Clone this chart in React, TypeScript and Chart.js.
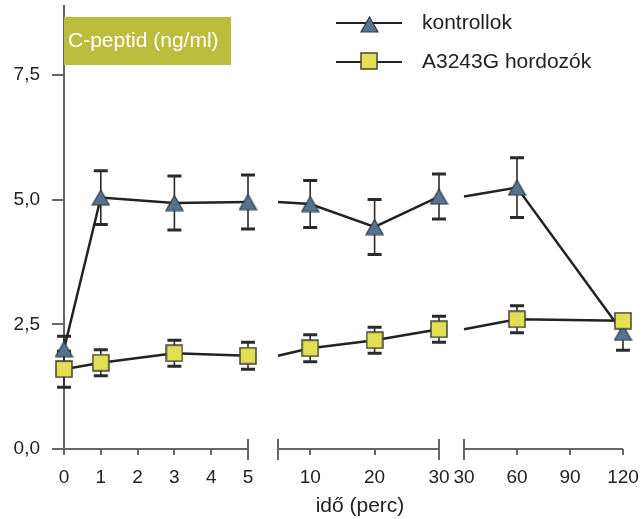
import React, { useEffect, useRef } from 'react';
import { Chart, registerables } from 'chart.js';

Chart.register(...registerables);

// ---- data ----
const times = [0, 1, 3, 5, 10, 20, 30, 60, 120];
const controlMeans = [2.0, 5.04, 4.93, 4.95, 4.91, 4.45, 5.06, 5.24, 2.33];
const controlErrs = [0.26, 0.54, 0.54, 0.54, 0.47, 0.55, 0.45, 0.6, 0.35];
const carrierMeans = [1.6, 1.73, 1.92, 1.87, 2.02, 2.18, 2.4, 2.6, 2.57];
const carrierErrs = [0.36, 0.26, 0.26, 0.27, 0.27, 0.26, 0.26, 0.27, 0.1];
const seriesNames = ['kontrollok', 'A3243G hordozók'];
const yTicks = [0, 2.5, 5, 7.5];
const yTitle = 'C-peptid (ng/ml)';
const xTitle = 'idő (perc)';
// broken time axis: three segments
const segTimeStart = [0, 5, 30];
const segTimeEnd = [5, 30, 120];
const segTickTimes = [[0, 1, 2, 3, 4, 5], [10, 20, 30], [30, 60, 90, 120]];

// ---- layout (axis units of the x scale) ----
const segPosStart = [0, 214, 400];
const segPosEnd = [184, 375, 559];
const X_MAX = 559;
const Y_MAX = 8.88;
const FONT = '"Liberation Sans", Arial, sans-serif';

function segOf(t: number): number {
  if (t <= segTimeEnd[0]) return 0;
  if (t <= segTimeEnd[1]) return 1;
  return 2;
}
function pos(seg: number, t: number): number {
  return (
    segPosStart[seg] +
    ((t - segTimeStart[seg]) / (segTimeEnd[seg] - segTimeStart[seg])) *
      (segPosEnd[seg] - segPosStart[seg])
  );
}

type Pt = { x: number; y: number | null; err: number; marker: boolean };

function buildPoints(means: number[], errs: number[]): Pt[] {
  const pts: Pt[] = [];
  let prevSeg = -1;
  let prevIdx = -1;
  times.forEach((t, i) => {
    const s = segOf(t);
    if (prevSeg >= 0 && s !== prevSeg) {
      pts.push({ x: (segPosEnd[prevSeg] + segPosStart[s]) / 2, y: null, err: 0, marker: false });
      pts.push({ x: segPosStart[s], y: means[prevIdx], err: 0, marker: false });
    }
    pts.push({ x: pos(s, t), y: means[i], err: errs[i], marker: true });
    prevSeg = s;
    prevIdx = i;
  });
  return pts;
}

const tickEntries: { pos: number; label: string }[] = [];
segTickTimes.forEach((arr, s) => arr.forEach((t) => tickEntries.push({ pos: pos(s, t), label: String(t) })));

function makeTriangle(): HTMLCanvasElement {
  const c = document.createElement('canvas');
  c.width = 19;
  c.height = 17;
  const g = c.getContext('2d')!;
  g.beginPath();
  g.moveTo(9.5, 1);
  g.lineTo(18, 16);
  g.lineTo(1, 16);
  g.closePath();
  g.fillStyle = '#57748f';
  g.fill();
  g.lineWidth = 1.2;
  g.strokeStyle = '#2c3a48';
  g.stroke();
  return c;
}
function makeSquare(): HTMLCanvasElement {
  const c = document.createElement('canvas');
  c.width = 18;
  c.height = 18;
  const g = c.getContext('2d')!;
  g.fillStyle = '#e2e052';
  g.fillRect(1, 1, 16, 16);
  g.lineWidth = 1.5;
  g.strokeStyle = '#46463a';
  g.strokeRect(1, 1, 16, 16);
  return c;
}

function zeroPad(scale: any) {
  scale.paddingTop = 0;
  scale.paddingBottom = 0;
  scale.paddingLeft = 0;
  scale.paddingRight = 0;
}

export default function App() {
  const ref = useRef<HTMLCanvasElement | null>(null);

  useEffect(() => {
    if (!ref.current) return;
    const tri = makeTriangle();
    const sq = makeSquare();
    const markers = [tri, sq];

    const errorBars = {
      id: 'errorBars',
      beforeDatasetsDraw(chart: any) {
        const ctx = chart.ctx;
        const ys = chart.scales.y;
        ctx.save();
        chart.data.datasets.forEach((ds: any, di: number) => {
          const meta = chart.getDatasetMeta(di);
          meta.data.forEach((el: any, j: number) => {
            const raw = ds.data[j] as Pt;
            if (!raw.marker || raw.y == null) return;
            const x = el.x;
            const yt = ys.getPixelForValue(raw.y + raw.err);
            const yb = ys.getPixelForValue(raw.y - raw.err);
            ctx.strokeStyle = '#2a2a2a';
            ctx.lineWidth = 1.6;
            ctx.beginPath();
            ctx.moveTo(x, yt);
            ctx.lineTo(x, yb);
            ctx.stroke();
            ctx.lineWidth = 3;
            ctx.beginPath();
            ctx.moveTo(x - 7, yt);
            ctx.lineTo(x + 7, yt);
            ctx.moveTo(x - 7, yb);
            ctx.lineTo(x + 7, yb);
            ctx.stroke();
          });
        });
        ctx.restore();
      },
    };

    const decorations = {
      id: 'decorations',
      afterDraw(chart: any) {
        const ctx = chart.ctx;
        const xs = chart.scales.x;
        const area = chart.chartArea;
        const yb = area.bottom;
        ctx.save();
        // broken x axis line segments with end caps
        ctx.strokeStyle = '#666';
        ctx.lineWidth = 2;
        for (let s = 0; s < segPosStart.length; s++) {
          const a = xs.getPixelForValue(segPosStart[s]);
          const b = xs.getPixelForValue(segPosEnd[s]);
          ctx.beginPath();
          ctx.moveTo(s === 0 ? a - 1 : a, yb);
          ctx.lineTo(b, yb);
          if (s > 0) {
            ctx.moveTo(a, yb - 10);
            ctx.lineTo(a, yb + 11);
          }
          if (s < segPosStart.length - 1) {
            ctx.moveTo(b, yb - 10);
            ctx.lineTo(b, yb + 11);
          }
          ctx.stroke();
        }
        // y title box
        ctx.fillStyle = '#bcbd3c';
        ctx.fillRect(area.left, 17, 167, 48);
        ctx.fillStyle = '#ffffff';
        ctx.font = `21px ${FONT}`;
        ctx.textAlign = 'left';
        ctx.textBaseline = 'middle';
        ctx.fillText(yTitle, area.left + 4, 41);
        // x title
        ctx.fillStyle = '#222';
        ctx.textAlign = 'center';
        ctx.fillText(xTitle, 360, 506);
        // legend
        const rows = [23, 62];
        seriesNames.forEach((name, i) => {
          const y = rows[i];
          ctx.strokeStyle = '#222';
          ctx.lineWidth = 2;
          ctx.beginPath();
          ctx.moveTo(336, y);
          ctx.lineTo(402, y);
          ctx.stroke();
          const m = markers[i];
          ctx.drawImage(m, Math.round(369 - m.width / 2), Math.round(y + (i === 0 ? 1 : -1) - m.height / 2));
          ctx.fillStyle = '#222';
          ctx.textAlign = 'left';
          ctx.textBaseline = 'middle';
          ctx.font = `21px ${FONT}`;
          ctx.fillText(name, 422, y);
        });
        ctx.restore();
      },
    };

    const mkDataset = (label: string, means: number[], errs: number[], img: HTMLCanvasElement, order: number) => ({
      label,
      data: buildPoints(means, errs),
      borderColor: '#222',
      borderWidth: 2.5,
      tension: 0,
      spanGaps: false,
      clip: false,
      order,
      pointStyle: img,
      pointRadius: (c: any) => (c.raw && c.raw.marker ? 8 : 0),
      pointHoverRadius: 0,
    });

    const chart = new Chart(ref.current, {
      type: 'line',
      data: {
        datasets: [
          mkDataset(seriesNames[0], controlMeans, controlErrs, tri, 2),
          mkDataset(seriesNames[1], carrierMeans, carrierErrs, sq, 1),
        ] as any,
      },
      options: {
        animation: false,
        responsive: false,
        layout: { autoPadding: false, padding: { top: 6, right: 20, left: 0, bottom: 0 } },
        plugins: {
          legend: { display: false },
          tooltip: { enabled: false },
          title: { display: false },
        },
        scales: {
          x: {
            type: 'linear',
            min: 0,
            max: X_MAX,
            afterBuildTicks: (scale: any) => {
              scale.ticks = tickEntries.map((e) => ({ value: e.pos }));
            },
            afterFit: (scale: any) => {
              scale.height = 70;
              zeroPad(scale);
            },
            ticks: {
              autoSkip: false,
              maxRotation: 0,
              padding: 11,
              color: '#222',
              font: { family: FONT, size: 19 },
              callback: (_v: any, i: number) => tickEntries[i].label,
            },
            grid: { drawOnChartArea: false, drawTicks: true, tickLength: 6, color: '#666', lineWidth: 2 },
            border: { display: false },
          },
          y: {
            type: 'linear',
            min: 0,
            max: Y_MAX,
            afterBuildTicks: (scale: any) => {
              scale.ticks = yTicks.map((v) => ({ value: v }));
            },
            afterFit: (scale: any) => {
              scale.width = 64;
              zeroPad(scale);
            },
            ticks: {
              padding: 12,
              color: '#222',
              font: { family: FONT, size: 19 },
              callback: (v: any) => Number(v).toFixed(1).replace('.', ','),
            },
            grid: { drawOnChartArea: false, drawTicks: true, tickLength: 12, color: '#666', lineWidth: 2 },
            border: { display: true, color: '#666', width: 2 },
          },
        },
      } as any,
      plugins: [errorBars, decorations],
    });
    return () => chart.destroy();
  }, []);

  return (
    <div style={{ position: 'fixed', left: 0, top: 0, width: 643, height: 519, background: '#fff' }}>
      <canvas ref={ref} width={643} height={519} style={{ display: 'block' }} />
    </div>
  );
}
